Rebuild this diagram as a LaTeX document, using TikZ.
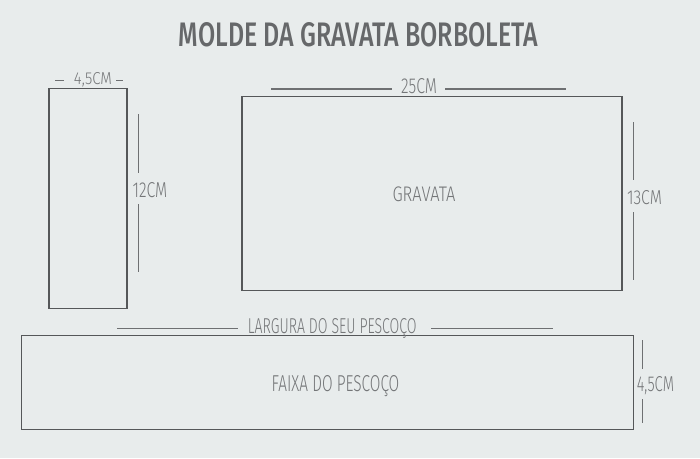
\documentclass[tikz,border=0pt]{standalone}
\usepackage{fontspec}
\usepackage{graphicx}
\setmainfont{Fira Sans}
\newfontfamily\lightf{Fira Sans Light}
\newfontfamily\medf{Fira Sans Medium}
\definecolor{bg}{HTML}{E8ECEC}
\definecolor{boxline}{HTML}{555759}
\definecolor{dimline}{HTML}{6E7072}
\definecolor{labtext}{HTML}{747678}
\definecolor{titletext}{HTML}{66686A}
\newcommand{\fitlab}[3]{\resizebox{#1pt}{#2pt}{\lightf #3}}
\tikzset{
  piece/.style={draw=boxline, line width=1.3pt, inner sep=0pt, fill=none},
  dimseg/.style={draw=dimline, line width=1.4pt},
  lab/.style={inner sep=0pt, anchor=base, text=labtext},
}
\begin{document}
\begin{tikzpicture}[x=1pt,y=-1pt]
\fill[bg] (0,0) rectangle (700,458);
\useasboundingbox (0,0) rectangle (700,458);
% title
\node[inner sep=0pt, anchor=base, text=titletext] (title) at (358.5,46.7)
  {\resizebox{359pt}{24pt}{\medf MOLDE DA GRAVATA BORBOLETA}};
% pieces
\node[piece, minimum width=78pt, minimum height=220pt] (small) at (88,198.5) {};
\node[piece, minimum width=380pt, minimum height=194pt] (tie) at (432,193.5) {};
\node[piece, minimum width=612pt, minimum height=94pt] (band) at (327.3,382.3) {};
% labels
\node[lab] (w45) at (93,84) {\fitlab{38}{12}{4,5CM}};
\node[lab] (h12) at (150,197) {\fitlab{34.6}{15}{12CM}};
\node[lab] (w25) at (419,93) {\fitlab{36}{15}{25CM}};
\node[lab] (h13) at (644.5,204) {\fitlab{35}{14}{13CM}};
\node[lab] (gravata) at (424,201.7) {\fitlab{63}{14.7}{GRAVATA}};
\node[lab] (largura) at (332.3,333) {\fitlab{168.7}{15}{LARGURA DO SEU PESCOÇO}};
\node[lab] (faixa) at (335.5,391.7) {\fitlab{127.6}{16}{FAIXA DO PESCOÇO}};
\node[lab] (h45) at (655.4,391.7) {\fitlab{37.3}{15}{4,5CM}};
% dimension line end points
\coordinate (a1) at (55,80.5);  \coordinate (a2) at (64,80.5);
\coordinate (a3) at (116,80.5); \coordinate (a4) at (123,80.5);
\coordinate (b1) at (138.7,114); \coordinate (b2) at (138.7,173);
\coordinate (b3) at (138.7,204); \coordinate (b4) at (138.7,272);
\coordinate (c1) at (271,89); \coordinate (c2) at (391.7,89);
\coordinate (c3) at (445,89); \coordinate (c4) at (566,89);
\coordinate (d1) at (633.3,122); \coordinate (d2) at (633.3,180);
\coordinate (d3) at (633.3,212); \coordinate (d4) at (633.3,280);
\coordinate (e1) at (117,328.7); \coordinate (e2) at (238,328.7);
\coordinate (e3) at (431,328.7); \coordinate (e4) at (552.7,328.7);
\coordinate (f1) at (642.7,340); \coordinate (f2) at (642.7,369);
\coordinate (f3) at (642.7,399); \coordinate (f4) at (642.7,423);
\foreach \p in {a,b,c,d,e,f}{
  \draw[dimseg] (\p1) -- (\p2);
  \draw[dimseg] (\p3) -- (\p4);
}
\end{tikzpicture}
\end{document}
